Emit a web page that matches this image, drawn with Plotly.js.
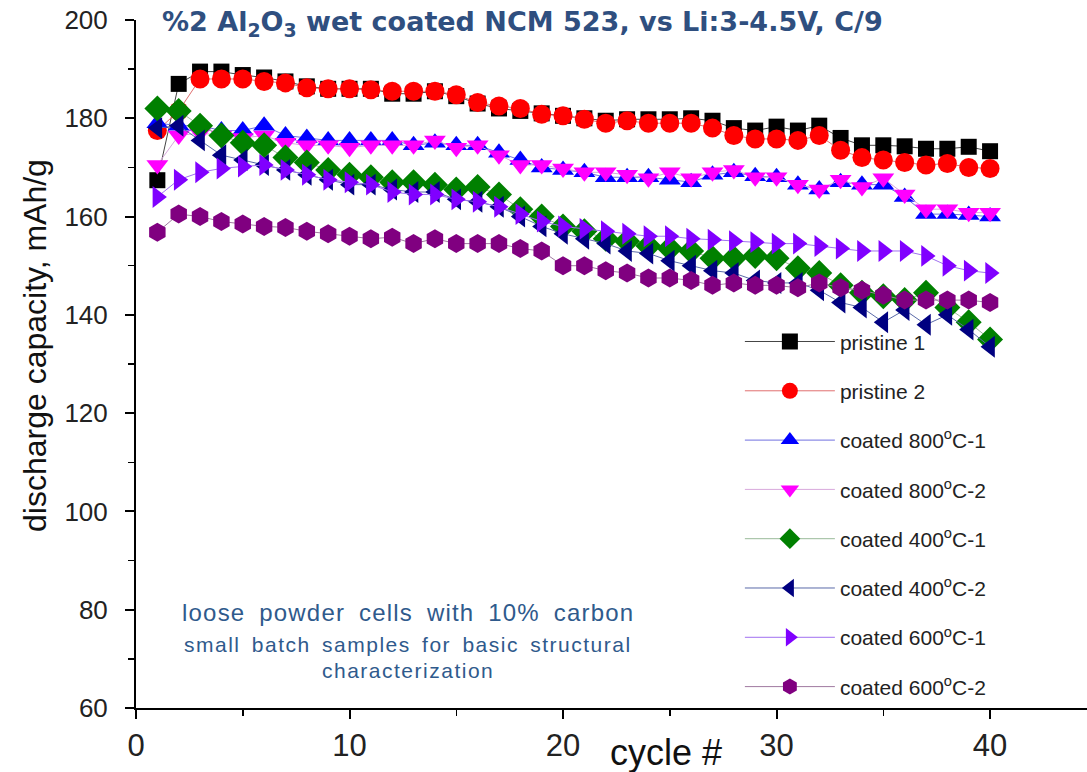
<!DOCTYPE html>
<html>
<head>
<meta charset="utf-8">
<script src="https://cdn.plot.ly/plotly-3.0.1.min.js"></script>
<style>html,body{margin:0;padding:0;background:#fff;}#chart{width:1087px;height:772px;}</style>
</head>
<body>
<div id="chart"></div>
<script>
const cycles = [1,2,3,4,5,6,7,8,9,10,11,12,13,14,15,16,17,18,19,20,21,22,23,24,25,26,27,28,29,30,31,32,33,34,35,36,37,38,39,40];

const pristine1 = [167.4,187,189.5,189.5,188.8,188.3,187.5,186.5,186,186,186,185,185,185.5,184.5,183,182,181.5,181,180.5,180,179.5,179.8,179.8,179.8,180,179.5,178,177.5,178.3,177.5,178.5,176,174.5,174.5,174.3,173.8,173.8,174.2,173.3];
const pristine2 = [177.5,181.5,188,188,188,187.5,187.2,186.2,186,186,185.8,185.5,185.5,185.5,184.8,183.2,182.5,182,180.8,180.5,179.8,179,179.5,179,179,179,178,176.5,175.8,175.8,175.5,176.5,173.5,172,171.5,171,170.5,170.8,170,169.8];
const coated800_1 = [179,178.5,178.5,177.5,177.5,178.5,176.5,176,175.5,175.5,175.5,175.5,174.5,175,174.5,174.5,173,171.5,170,169.5,169,168,168,168,167.5,167,168.5,169,168.2,168,166.5,165.5,167,166.5,166.5,164,160.5,160.5,160.3,160];
const coated800_2 = [170.5,176.5,177,176.5,176,176.5,175,174.5,174.5,174,174.5,174.5,174.5,175.5,174,174.5,172.5,170.5,170.5,169.8,169,169,168.5,167.8,169,167.8,169,169.5,168,168,166.5,165.5,167.5,166,167.8,164.5,161.5,161.5,160.8,160.8];
const coated400_1 = [182,181.5,178.5,176.5,175,174.5,172,171,169.5,168.5,168,167,167,166.5,165.5,166,164.5,161.5,160,158,157,155.5,155,154,153.5,153,151.5,151.5,152,151.5,149.5,148.5,146,144.5,143.8,143,144.5,141.5,138.5,135];
const coated400_2 = [178,178.5,175.5,172.5,171.5,170.5,169.5,168.5,167.5,166.5,166.5,165.5,165,165,163.5,163,162,160,158,156.5,155.5,154.5,153,152.5,151,150,149,148.5,147,146.5,146.5,145,142.5,141.5,138.5,141,138,140,137,133.5];
const coated600_1 = [164,167.5,169,169.8,170.2,170.5,169.5,168.5,167.5,167,166.5,165,164.5,164.5,163.5,163,162,160.5,159,158,157.5,157,156.5,156,156,155.5,155.3,155,154.8,154.5,154.5,154,153.5,153,153,153,152,150,149,148.5];
const coated600_2 = [156.8,160.5,160,159,158.5,158,157.8,157,156.5,156,155.5,155.8,154.5,155.5,154.5,154.5,154.5,153.5,153,150,150,149,148.5,147.5,147.5,147,146,146.5,146,146,145.5,146.5,145.5,145,144,143,143,143,143,142.5];

const seriesNames = ['pristine 1','pristine 2','coated 800<sup>o</sup>C-1','coated 800<sup>o</sup>C-2','coated 400<sup>o</sup>C-1','coated 400<sup>o</sup>C-2','coated 600<sup>o</sup>C-1','coated 600<sup>o</sup>C-2'];
const seriesData = [pristine1, pristine2, coated800_1, coated800_2, coated400_1, coated400_2, coated600_1, coated600_2];
const markerColors = ['#000000','#ff0000','#0000ff','#ff00ff','#008000','#000080','#8000ff','#800080'];
const lineColors = ['#444444','#e07070','#7070e0','#d8a8dc','#99bb99','#5a6aa8','#a070f0','#a07aa0'];
const symbols = ['square','circle','triangle-up','triangle-down','diamond','triangle-left','triangle-right','hexagon'];
const sizes = [16,19,19,19,20,19,19,19];

const traces = seriesData.map((ys, i) => ({
  x: cycles, y: ys, type: 'scatter', mode: 'lines+markers',
  name: seriesNames[i], legendgroup: 'g' + i,
  line: {color: lineColors[i], width: 1},
  marker: {symbol: symbols[i], color: markerColors[i], size: sizes[i], line: {width: 0}},
  cliponaxis: false
}));

const blue = '#2f5a8c';
const layout = {
  width: 1087, height: 772,
  margin: {l: 136, r: 0, t: 20, b: 64},
  paper_bgcolor: '#ffffff', plot_bgcolor: '#ffffff',
  showlegend: true,
  legend: {
    x: 0.635, y: 0.562, xanchor: 'left', yanchor: 'top',
    bgcolor: 'rgba(0,0,0,0)', borderwidth: 0,
    font: {family: 'Liberation Sans, Arial, sans-serif', size: 21, color: '#222'},
    tracegroupgap: 19, itemwidth: 90
  },
  xaxis: {
    range: [0, 44.54], showgrid: false, zeroline: false,
    showline: true, linecolor: '#000', linewidth: 2,
    ticks: 'outside', ticklen: 9, tickwidth: 2, tickcolor: '#000',
    tickvals: [0,10,20,30,40], ticklabelstandoff: 0,
    minor: {tickvals: [5,15,25,35], ticks: 'outside', ticklen: 6, tickwidth: 1.5, tickcolor: '#000'},
    tickfont: {family: 'Liberation Sans Narrow, Arial Narrow, sans-serif', size: 31, color: '#222'}
  },
  yaxis: {
    range: [60, 200], showgrid: false, zeroline: false,
    showline: true, linecolor: '#000', linewidth: 2,
    ticks: 'outside', ticklen: 9, tickwidth: 2, tickcolor: '#000',
    tickvals: [60,80,100,120,140,160,180,200], ticklabelstandoff: 12,
    minor: {tickvals: [70,90,110,130,150,170,190], ticks: 'outside', ticklen: 6, tickwidth: 1.5, tickcolor: '#000'},
    tickfont: {family: 'Liberation Sans, Arial, sans-serif', size: 26, color: '#222'}
  },
  annotations: [
    {text: '<b>%2 Al<sub>2</sub>O<sub>3</sub> wet coated NCM 523, vs Li:3-4.5V, C/9</b>',
     xref: 'paper', yref: 'paper', x: (160-136)/951, y: 1.0, xanchor: 'left', yanchor: 'middle', yshift: -3,
     showarrow: false, font: {family: 'DejaVu Sans, sans-serif', size: 27, color: '#2f4f7f'}},
    {text: 'discharge capacity, mAh/g', xref: 'paper', yref: 'paper', x: 0, xshift: -101, y: (708-346)/688,
     textangle: -90, showarrow: false, xanchor: 'center', yanchor: 'middle',
     font: {family: 'Liberation Sans, Arial, sans-serif', size: 32, color: '#111'}},
    {text: 'cycle #', xref: 'paper', yref: 'paper', x: (666-136)/951, y: 0, yshift: -44,
     showarrow: false, xanchor: 'center', yanchor: 'middle',
     font: {family: 'Liberation Sans Narrow, Arial Narrow, sans-serif', size: 36, color: '#111'}},
    {text: '<span style="letter-spacing:1.2px;word-spacing:6px">loose powder cells with 10% carbon</span>', xref: 'paper', yref: 'paper', x: (408-136)/951, y: (708-612)/688,
     showarrow: false, xanchor: 'center', yanchor: 'middle',
     font: {family: 'Liberation Sans, Arial, sans-serif', size: 24, color: blue}},
    {text: '<span style="letter-spacing:1.5px;word-spacing:4px">small batch samples for basic structural</span>', xref: 'paper', yref: 'paper', x: (408-136)/951, y: (708-644)/688,
     showarrow: false, xanchor: 'center', yanchor: 'middle',
     font: {family: 'Liberation Sans, Arial, sans-serif', size: 21, color: blue}},
    {text: '<span style="letter-spacing:1.5px">characterization</span>', xref: 'paper', yref: 'paper', x: (408-136)/951, y: (708-670)/688,
     showarrow: false, xanchor: 'center', yanchor: 'middle',
     font: {family: 'Liberation Sans, Arial, sans-serif', size: 21, color: blue}}
  ]
};

Plotly.newPlot('chart', traces, layout, {displayModeBar: false, staticPlot: true});
</script>
</body>
</html>
